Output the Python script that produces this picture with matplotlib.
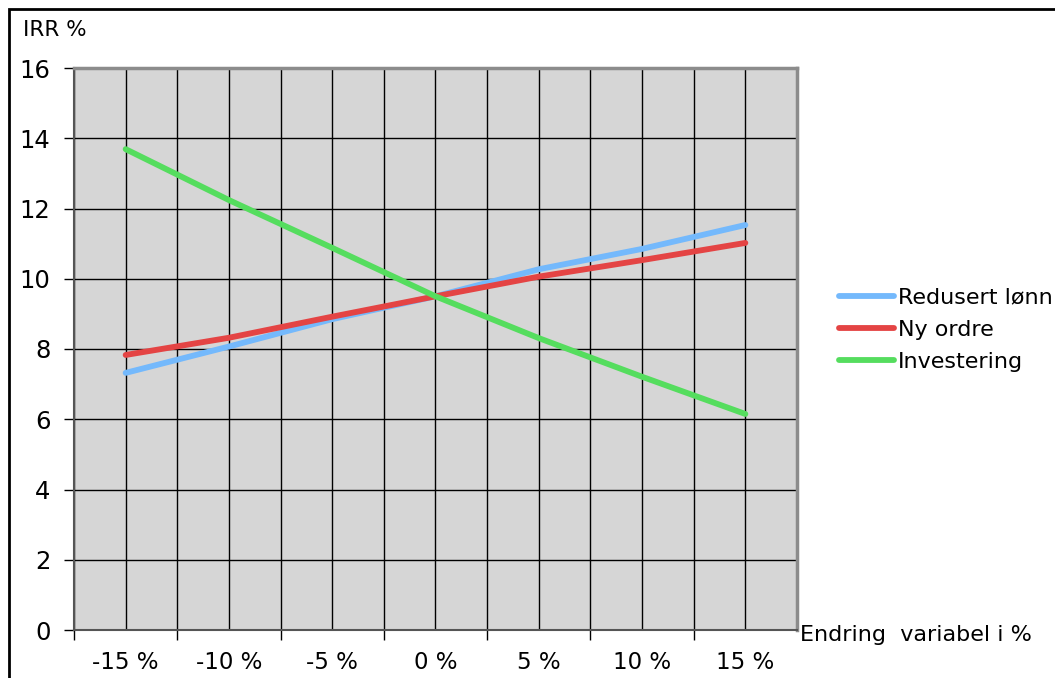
import matplotlib

matplotlib.use("Agg")
import matplotlib.pyplot as plt
from matplotlib.patches import Rectangle

# endring i variabel (%)
endring = [-15, -10, -5, 0, 5, 10, 15]
tick_labels = ["-15 %", "-10 %", "-5 %", "0 %", "5 %", "10 %", "15 %"]

redusert_lonn = [7.32, 8.07, 8.85, 9.50, 10.27, 10.85, 11.53]
ny_ordre = [7.83, 8.32, 8.92, 9.50, 10.06, 10.53, 11.02]
investering = [13.69, 12.24, 10.88, 9.50, 8.31, 7.21, 6.15]

plt.rcParams["font.family"] = ["DejaVu Sans"]

fig = plt.figure(figsize=(10.55, 6.78), dpi=100)
fig.patch.set_facecolor("white")
ax = fig.add_axes([74 / 1055, 48 / 678, 723 / 1055, 562 / 678])
ax.set_facecolor("#d6d6d6")

ax.plot(endring, redusert_lonn, color="#74b9fc", lw=4.2, solid_capstyle="round", label="Redusert lønn", zorder=3)
ax.plot(endring, ny_ordre, color="#e44444", lw=4.2, solid_capstyle="round", label="Ny ordre", zorder=3)
ax.plot(endring, investering, color="#55dd5e", lw=4.2, solid_capstyle="round", label="Investering", zorder=3)

ax.set_xlim(-17.5, 17.5)
ax.set_ylim(0, 16)
ax.set_xticks(endring)
ax.set_xticklabels(tick_labels)
ax.set_xticks([-17.5, -12.5, -7.5, -2.5, 2.5, 7.5, 12.5], minor=True)
ax.set_yticks(range(0, 17, 2))

ax.tick_params(axis="x", which="major", length=0, pad=15, labelsize=16.5)
ax.tick_params(axis="x", which="minor", length=7, width=1, color="black", direction="out")
ax.tick_params(axis="y", length=7, width=1, direction="out", labelsize=17.5, pad=10)

ax.grid(True, which="both", axis="x", color="black", lw=1)
ax.grid(True, which="major", axis="y", color="black", lw=1)
ax.set_axisbelow(True)

for side in ["left", "bottom"]:
    ax.spines[side].set_color("#555555")
    ax.spines[side].set_linewidth(1.5)
for side in ["top", "right"]:
    ax.spines[side].set_color("#8c8c8c")
    ax.spines[side].set_linewidth(2.5)

fig.text(23 / 1055, 1 - 30 / 678, "IRR %", fontsize=15.5, va="center", ha="left")
fig.text(800 / 1055, 1 - 635 / 678, "Endring  variabel i %", fontsize=16, va="center", ha="left")

ax.legend(loc="center left", bbox_to_anchor=(830 / 1055, 1 - 330 / 678), bbox_transform=fig.transFigure,
          frameon=False, fontsize=16, handlelength=2.5, handletextpad=0.15, labelspacing=0.55, borderaxespad=0)

# ramme rundt hele diagrammet
fig.patches.append(Rectangle((9 / 1055, -0.05), 1.1, 1 - 9 / 678 + 0.05, transform=fig.transFigure,
                             fill=False, edgecolor="black", lw=2))

fig.savefig("out.png", dpi=100)
